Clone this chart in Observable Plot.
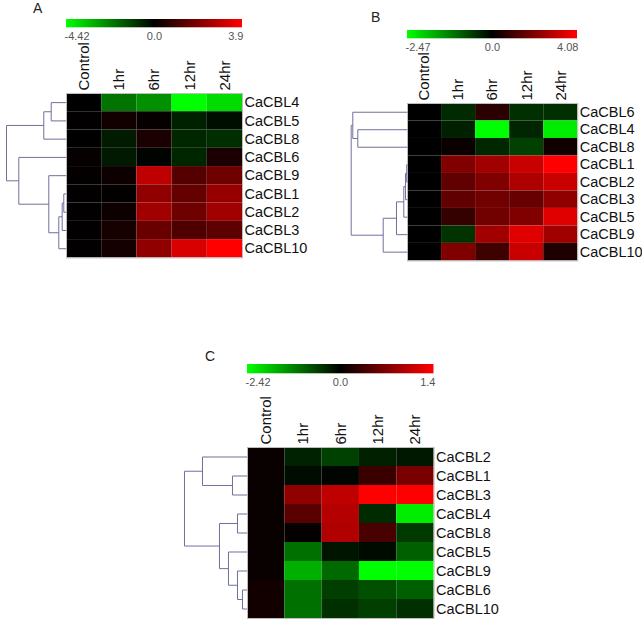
<!DOCTYPE html>
<html><head><meta charset="utf-8">
<script src="https://cdn.jsdelivr.net/npm/d3@7"></script>
<script src="https://cdn.jsdelivr.net/npm/@observablehq/plot@0.6"></script>
<style>
html,body{margin:0;padding:0;background:#fff;}
#root{position:relative;width:642px;height:619px;overflow:hidden;font-family:"Liberation Sans",Arial,sans-serif;}
#root > *{position:absolute;}
</style></head><body><div id="root"></div>
<script>
// ---------- data ----------
const timepoints = ["Control","1hr","6hr","12hr","24hr"];

const genesA = ["CaCBL4","CaCBL5","CaCBL8","CaCBL6","CaCBL9","CaCBL1","CaCBL2","CaCBL3","CaCBL10"];
const valuesA = [
  [0.00,-2.00,-2.50,-4.42,-3.80],
  [0.03, 0.27, 0.10,-0.57,-0.25],
  [0.02,-0.47, 0.40,-0.65,-0.80],
  [0.10,-0.43,-0.05,-0.65, 0.40],
  [0.08, 0.20, 2.90, 1.30, 1.70],
  [0.03, 0.05, 2.20, 1.55, 2.30],
  [0.03, 0.20, 2.45, 1.70, 2.45],
  [0.03, 0.35, 1.60, 1.20, 1.40],
  [0.03, 0.30, 2.20, 3.30, 3.90]
];
const rangeA = [-4.42, 3.9];
const legendLabelsA = ["-4.42","0.0","3.9"];
// merges: [child, child, height]; numbers refer to earlier merges
const mergesA = [
  ["CaCBL4","CaCBL5",15],
  [0,"CaCBL8",22.4],
  ["CaCBL1","CaCBL2",2.4],
  [2,"CaCBL3",4],
  [3,"CaCBL10",7.4],
  ["CaCBL9",4,17.4],
  ["CaCBL6",5,47.4],
  [1,6,59.7]
];

const genesB = ["CaCBL6","CaCBL4","CaCBL8","CaCBL1","CaCBL2","CaCBL3","CaCBL5","CaCBL9","CaCBL10"];
const valuesB = [
  [0,-0.41, 0.67,-0.46,-0.46],
  [0,-0.31,-2.47,-0.36,-2.30],
  [0, 0.16,-0.39,-0.62, 0.27],
  [0, 2.05, 2.56, 3.20, 4.08],
  [0, 1.54, 2.05, 2.80, 3.20],
  [0, 1.54, 1.80, 1.65, 2.30],
  [0, 0.85, 1.80, 2.05, 3.60],
  [0,-0.49, 2.56, 3.60, 2.56],
  [0, 2.05, 1.00, 3.20, 0.50]
];
const rangeB = [-2.47, 4.08];
const legendLabelsB = ["-2.47","0.0","4.08"];
const mergesB = [
  ["CaCBL4","CaCBL8",49.7],
  ["CaCBL6",0,54.7],
  ["CaCBL1","CaCBL2",0.8],
  [2,"CaCBL3",2],
  [3,"CaCBL5",3.7],
  [4,"CaCBL9",11],
  [5,"CaCBL10",24.3],
  [1,6,56.3]
];

const genesC = ["CaCBL2","CaCBL1","CaCBL3","CaCBL4","CaCBL8","CaCBL5","CaCBL9","CaCBL6","CaCBL10"];
const valuesC = [
  [0.05,-0.32,-0.61,-0.30,-0.23],
  [0.05,-0.11,-0.05, 0.32, 0.67],
  [0.05, 0.79, 1.05, 1.40, 1.40],
  [0.05, 0.49, 0.99,-0.40,-2.25],
  [0.05, 0.03, 0.97, 0.40,-0.55],
  [0.05,-1.06,-0.20,-0.10,-0.91],
  [0.05,-1.67,-1.00,-2.42,-2.42],
  [0.10,-1.06,-0.60,-0.76,-0.90],
  [0.10,-1.06,-0.45,-0.60,-0.45]
];
const rangeC = [-2.42, 1.4];
const legendLabelsC = ["-2.42","0.0","1.4"];
const mergesC = [
  ["CaCBL1","CaCBL3",14.7],
  ["CaCBL2",0,44.7],
  ["CaCBL4","CaCBL8",9.7],
  ["CaCBL6","CaCBL10",4.7],
  ["CaCBL9",3,9.7],
  ["CaCBL5",4,18.7],
  [2,5,27.7],
  [1,6,62.7]
];

// ---------- layout ----------
const FONT = "'Liberation Sans', Arial, sans-serif";
const root = document.getElementById("root");
const gToB = d3.interpolateRgb("#00ff00", "#000000");
const bToR = d3.interpolateRgb("#000000", "#ff0000");
const greenBlackRed = t => t < 0.5 ? gToB(t * 2) : bToR((t - 0.5) * 2);

function place(el, left, top) {
  el.style.position = "absolute";
  el.style.left = left + "px";
  el.style.top = top + "px";
  root.appendChild(el);
}

function dendroSegments(genes, merges) {
  const nodes = [];
  const get = c => typeof c === "string" ? {y: genes.indexOf(c), h: 0} : nodes[c];
  const segs = [];
  for (const [a, b, h] of merges) {
    const A = get(a), B = get(b);
    segs.push({x1: h, y1: A.y, x2: h, y2: B.y});
    segs.push({x1: A.h, y1: A.y, x2: h, y2: A.y});
    segs.push({x1: B.h, y1: B.y, x2: h, y2: B.y});
    nodes.push({y: (A.y + B.y) / 2, h});
  }
  return segs;
}

function panel(cfg, genes, values, range, labels, merges) {
  const color = {type: "diverging", domain: range, pivot: 0, symmetric: false, interpolate: greenBlackRed};
  const data = genes.flatMap((g, i) => timepoints.map((t, j) => ({gene: g, time: t, value: values[i][j]})));
  const top = 64, right = 72;
  const hm = Plot.plot({
    width: cfg.hw + right, height: cfg.hh + top,
    marginLeft: 0, marginRight: right, marginTop: top, marginBottom: 0,
    style: {background: "transparent", overflow: "visible", fontFamily: FONT},
    x: {domain: timepoints, padding: 0, round: false},
    y: {domain: genes, padding: 0, round: false},
    color,
    marks: [
      Plot.cell(data, {x: "time", y: "gene", fill: "value"}),
      Plot.frame({stroke: "#bdbdbd"}),
      Plot.axisX({anchor: "top", tickSize: 0, tickPadding: 3, tickRotate: -90, label: null, fontSize: 15, color: "#111"}),
      Plot.axisY({anchor: "right", tickSize: 0, tickPadding: 2, label: null, fontSize: 14.5, color: "#111"})
    ]
  });
  place(hm, cfg.hx, cfg.hy - top);

  const dw = cfg.hx;
  const dg = Plot.plot({
    width: dw, height: cfg.hh,
    margin: 0,
    style: {background: "transparent", overflow: "visible"},
    x: {domain: [dw, 0], range: [0, dw], axis: null},
    y: {domain: [genes.length - 0.5, -0.5], range: [cfg.hh, 0], axis: null},
    marks: [
      Plot.link(dendroSegments(genes, merges), {x1: "x1", y1: "y1", x2: "x2", y2: "y2", stroke: "#6f6f9c", strokeWidth: 1})
    ]
  });
  place(dg, 0, cfg.hy);

  const pad = 20;
  const tickVals = [range[0], 0, range[1]];
  const lg = Plot.legend({
    color,
    width: cfg.lx1 - cfg.lx0 + 2 * pad,
    height: cfg.ly1 - cfg.ly0 + 18,
    marginLeft: pad, marginRight: pad, marginTop: 0, marginBottom: 18,
    ticks: tickVals,
    tickFormat: d => labels[tickVals.indexOf(d)],
    tickSize: 0,
    label: null,
    style: {background: "transparent", overflow: "visible", color: "#555", font: "11px " + FONT}
  });
  d3.select(lg).selectAll(".tick line").remove();
  const texts = d3.select(lg).selectAll(".tick text");
  texts.attr("y", 4.5);
  const n = texts.size();
  texts.each(function(d, i) {
    if (i === 0) d3.select(this).attr("text-anchor", "start").attr("x", -2);
    if (i === n - 1) d3.select(this).attr("text-anchor", "end").attr("x", 1);
  });
  place(lg, cfg.lx0 - pad, cfg.ly0);
}

panel({hx: 65.7, hy: 93.3, hw: 176, hh: 164.4, lx0: 66, lx1: 242, ly0: 19, ly1: 27.3},
      genesA, valuesA, rangeA, legendLabelsA, mergesA);
panel({hx: 407, hy: 103.3, hw: 170.3, hh: 157.4, lx0: 407, lx1: 577, ly0: 30, ly1: 38.3},
      genesB, valuesB, rangeB, legendLabelsB, mergesB);
panel({hx: 246.7, hy: 447, hw: 186.6, hh: 171, lx0: 246.5, lx1: 433, ly0: 364, ly1: 373.3},
      genesC, valuesC, rangeC, legendLabelsC, mergesC);

// panel letters
const panelLetters = [["A", 33, 12.5], ["B", 371, 22], ["C", 205, 361]];
const svgL = d3.create("svg").attr("width", 642).attr("height", 619)
  .style("pointer-events", "none");
svgL.selectAll("text").data(panelLetters).join("text")
  .attr("x", d => d[1]).attr("y", d => d[2])
  .attr("font-family", FONT).attr("font-size", 14).attr("fill", "#222")
  .text(d => d[0]);
place(svgL.node(), 0, 0);
</script>
</body></html>
